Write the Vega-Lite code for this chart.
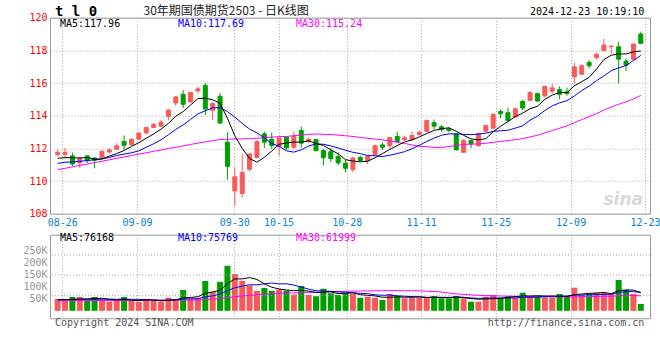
{
  "$schema": "https://vega.github.io/schema/vega-lite/v6.json",
  "autosize": {"type": "none"},
  "padding": {"left": 50, "top": 17.7, "right": 610, "bottom": 342.3},
  "background": "white",
  "bounds": "flush",
  "spacing": 21,
  "config": {
    "view": {"stroke": "#999999", "strokeWidth": 1},
    "font": "DejaVu Sans Mono",
    "axis": {"labelFont": "DejaVu Sans Mono", "labelFontSize": 10, "gridDash": [1, 2], "gridColor": "#a8a8a8", "gridOpacity": 1, "gridWidth": 1, "domain": false, "ticks": false, "labelPadding": 3}
  },
  "datasets": {
    "k": [
      {"d":"08-23","i":0,"o":111.62,"h":111.91,"l":111.50,"c":111.76,"v":48900,"m5":111.39,"m10":111.08,"m30":110.70,"vm5":46400,"vm10":45100,"vm30":41800},
      {"d":"08-26","i":1,"o":111.64,"h":112.03,"l":111.41,"c":111.76,"v":40600,"m5":111.43,"m10":111.15,"m30":110.78,"vm5":46400,"vm10":45500,"vm30":41800},
      {"d":"08-27","i":2,"o":111.54,"h":111.74,"l":110.92,"c":111.04,"v":57100,"m5":111.43,"m10":111.17,"m30":110.87,"vm5":47200,"vm10":46000,"vm30":41800},
      {"d":"08-28","i":3,"o":111.11,"h":111.50,"l":110.80,"c":111.39,"v":57100,"m5":111.41,"m10":111.21,"m30":110.96,"vm5":48900,"vm10":46800,"vm30":42200},
      {"d":"08-29","i":4,"o":111.54,"h":111.58,"l":111.09,"c":111.25,"v":43500,"m5":111.44,"m10":111.25,"m30":111.04,"vm5":49400,"vm10":47200,"vm30":42200},
      {"d":"08-30","i":5,"o":111.41,"h":111.45,"l":110.78,"c":111.27,"v":57100,"m5":111.34,"m10":111.31,"m30":111.13,"vm5":51100,"vm10":47600,"vm30":42200},
      {"d":"09-02","i":6,"o":111.43,"h":111.86,"l":111.39,"c":111.82,"v":43500,"m5":111.35,"m10":111.35,"m30":111.21,"vm5":51700,"vm10":48000,"vm30":42600},
      {"d":"09-03","i":7,"o":111.78,"h":112.03,"l":111.66,"c":111.90,"v":37700,"m5":111.53,"m10":111.45,"m30":111.30,"vm5":47800,"vm10":48000,"vm30":42600},
      {"d":"09-04","i":8,"o":111.95,"h":112.32,"l":111.90,"c":112.15,"v":40600,"m5":111.68,"m10":111.56,"m30":111.39,"vm5":44500,"vm10":48000,"vm30":42600},
      {"d":"09-05","i":9,"o":112.42,"h":112.79,"l":111.93,"c":112.19,"v":57100,"m5":111.87,"m10":111.65,"m30":111.47,"vm5":47200,"vm10":48300,"vm30":43100},
      {"d":"09-06","i":10,"o":112.23,"h":112.62,"l":112.17,"c":112.56,"v":40600,"m5":112.12,"m10":111.73,"m30":111.56,"vm5":43900,"vm10":47500,"vm30":43100},
      {"d":"09-09","i":11,"o":112.56,"h":112.99,"l":112.52,"c":112.93,"v":37700,"m5":112.35,"m10":111.85,"m30":111.65,"vm5":42700,"vm10":47200,"vm30":43100},
      {"d":"09-10","i":12,"o":112.95,"h":113.32,"l":112.85,"c":113.28,"v":48900,"m5":112.62,"m10":112.07,"m30":111.73,"vm5":45000,"vm10":46400,"vm30":43500},
      {"d":"09-11","i":13,"o":113.28,"h":113.55,"l":113.24,"c":113.46,"v":40600,"m5":112.88,"m10":112.28,"m30":111.82,"vm5":45000,"vm10":44700,"vm30":43500},
      {"d":"09-12","i":14,"o":113.36,"h":113.73,"l":113.32,"c":113.61,"v":37700,"m5":113.17,"m10":112.52,"m30":111.90,"vm5":41100,"vm10":44100,"vm30":43500},
      {"d":"09-13","i":15,"o":113.96,"h":114.37,"l":113.71,"c":114.35,"v":54200,"m5":113.53,"m10":112.83,"m30":111.99,"vm5":43800,"vm10":43800,"vm30":43900},
      {"d":"09-18","i":16,"o":114.78,"h":115.21,"l":114.61,"c":115.15,"v":48900,"m5":113.97,"m10":113.16,"m30":112.07,"vm5":46000,"vm10":44400,"vm30":43900},
      {"d":"09-19","i":17,"o":115.31,"h":115.56,"l":114.47,"c":114.70,"v":86100,"m5":114.25,"m10":113.44,"m30":112.15,"vm5":53500,"vm10":49200,"vm30":44300},
      {"d":"09-20","i":18,"o":114.84,"h":115.45,"l":114.82,"c":115.43,"v":48900,"m5":114.65,"m10":113.77,"m30":112.24,"vm5":55100,"vm10":50100,"vm30":44300},
      {"d":"09-23","i":19,"o":115.52,"h":115.76,"l":115.35,"c":115.64,"v":53800,"m5":115.05,"m10":114.11,"m30":112.32,"vm5":58400,"vm10":49700,"vm30":44700},
      {"d":"09-24","i":20,"o":115.86,"h":116.01,"l":114.04,"c":114.41,"v":123400,"m5":115.07,"m10":114.30,"m30":112.40,"vm5":72200,"vm10":58000,"vm30":46400},
      {"d":"09-25","i":21,"o":114.33,"h":114.82,"l":113.75,"c":114.74,"v":77800,"m5":114.98,"m10":114.48,"m30":112.47,"vm5":78000,"vm10":62000,"vm30":48400},
      {"d":"09-26","i":22,"o":115.19,"h":115.39,"l":113.50,"c":113.55,"v":120100,"m5":114.75,"m10":114.50,"m30":112.54,"vm5":84800,"vm10":69100,"vm30":50900},
      {"d":"09-27","i":23,"o":112.38,"h":112.99,"l":110.08,"c":110.90,"v":186300,"m5":113.85,"m10":114.25,"m30":112.56,"vm5":112300,"vm10":83700,"vm30":54600},
      {"d":"09-30","i":24,"o":109.40,"h":110.84,"l":108.48,"c":110.26,"v":152400,"m5":112.77,"m10":113.91,"m30":112.57,"vm5":132000,"vm10":95200,"vm30":58000},
      {"d":"10-08","i":25,"o":109.24,"h":111.66,"l":108.99,"c":110.53,"v":124200,"m5":112.00,"m10":113.53,"m30":112.58,"vm5":132100,"vm10":102200,"vm30":61300},
      {"d":"10-09","i":26,"o":110.72,"h":111.70,"l":110.59,"c":111.66,"v":104700,"m5":111.38,"m10":113.18,"m30":112.60,"vm5":137500,"vm10":107800,"vm30":63800},
      {"d":"10-10","i":27,"o":111.45,"h":112.52,"l":111.39,"c":112.42,"v":82000,"m5":111.15,"m10":112.95,"m30":112.62,"vm5":129900,"vm10":107400,"vm30":66200},
      {"d":"10-11","i":28,"o":112.89,"h":113.03,"l":112.03,"c":112.38,"v":94400,"m5":111.45,"m10":112.65,"m30":112.65,"vm5":111500,"vm10":111900,"vm30":68700},
      {"d":"10-14","i":29,"o":112.56,"h":112.97,"l":111.95,"c":112.17,"v":82800,"m5":111.83,"m10":112.30,"m30":112.69,"vm5":97600,"vm10":114800,"vm30":71000},
      {"d":"10-15","i":30,"o":112.11,"h":112.64,"l":111.56,"c":112.64,"v":88200,"m5":112.25,"m10":112.13,"m30":112.72,"vm5":90400,"vm10":111300,"vm30":72200},
      {"d":"10-16","i":31,"o":112.69,"h":112.73,"l":111.91,"c":112.03,"v":83600,"m5":112.33,"m10":111.85,"m30":112.73,"vm5":86200,"vm10":111900,"vm30":73700},
      {"d":"10-17","i":32,"o":112.07,"h":113.03,"l":111.97,"c":112.73,"v":67100,"m5":112.39,"m10":111.77,"m30":112.78,"vm5":83200,"vm10":106600,"vm30":74000},
      {"d":"10-18","i":33,"o":113.10,"h":113.34,"l":112.03,"c":112.32,"v":102700,"m5":112.38,"m10":111.91,"m30":112.81,"vm5":84900,"vm10":98200,"vm30":75600},
      {"d":"10-21","i":34,"o":112.42,"h":112.64,"l":112.32,"c":112.56,"v":65400,"m5":112.46,"m10":112.14,"m30":112.86,"vm5":81400,"vm10":89500,"vm30":76300},
      {"d":"10-22","i":35,"o":112.54,"h":112.58,"l":111.82,"c":111.86,"v":60400,"m5":112.30,"m10":112.28,"m30":112.88,"vm5":75800,"vm10":83100,"vm30":76400},
      {"d":"10-23","i":36,"o":111.86,"h":111.97,"l":110.94,"c":111.43,"v":91500,"m5":112.18,"m10":112.25,"m30":112.86,"vm5":77400,"vm10":81800,"vm30":78000},
      {"d":"10-24","i":37,"o":111.80,"h":112.03,"l":111.15,"c":111.37,"v":72500,"m5":111.91,"m10":112.15,"m30":112.85,"vm5":78500,"vm10":80900,"vm30":79200},
      {"d":"10-25","i":38,"o":111.50,"h":111.76,"l":110.96,"c":111.11,"v":65400,"m5":111.67,"m10":112.02,"m30":112.81,"vm5":71000,"vm10":78000,"vm30":80000},
      {"d":"10-28","i":39,"o":111.09,"h":111.29,"l":110.53,"c":110.78,"v":72500,"m5":111.31,"m10":111.88,"m30":112.77,"vm5":72500,"vm10":76900,"vm30":80500},
      {"d":"10-29","i":40,"o":110.70,"h":111.45,"l":110.53,"c":111.41,"v":69600,"m5":111.22,"m10":111.76,"m30":112.73,"vm5":74300,"vm10":75100,"vm30":81400},
      {"d":"10-30","i":41,"o":111.45,"h":111.56,"l":111.21,"c":111.25,"v":54200,"m5":111.18,"m10":111.68,"m30":112.67,"vm5":66800,"vm10":72100,"vm30":82000},
      {"d":"10-31","i":42,"o":111.25,"h":111.56,"l":111.04,"c":111.52,"v":58400,"m5":111.21,"m10":111.56,"m30":112.61,"vm5":64000,"vm10":71200,"vm30":82300},
      {"d":"11-01","i":43,"o":111.62,"h":112.21,"l":111.62,"c":112.17,"v":54200,"m5":111.43,"m10":111.55,"m30":112.57,"vm5":61800,"vm10":66400,"vm30":82800},
      {"d":"11-04","i":44,"o":112.21,"h":112.38,"l":111.91,"c":112.07,"v":44700,"m5":111.68,"m10":111.50,"m30":112.52,"vm5":56200,"vm10":64300,"vm30":83000},
      {"d":"11-05","i":45,"o":112.17,"h":112.69,"l":112.01,"c":112.67,"v":69600,"m5":111.94,"m10":111.58,"m30":112.46,"vm5":56200,"vm10":65200,"vm30":83500},
      {"d":"11-06","i":46,"o":112.73,"h":113.03,"l":112.40,"c":112.42,"v":61300,"m5":112.17,"m10":111.68,"m30":112.37,"vm5":57600,"vm10":62200,"vm30":83900},
      {"d":"11-07","i":47,"o":112.52,"h":112.79,"l":112.48,"c":112.64,"v":51800,"m5":112.39,"m10":111.80,"m30":112.30,"vm5":56300,"vm10":60200,"vm30":82800},
      {"d":"11-08","i":48,"o":112.52,"h":113.03,"l":112.48,"c":112.79,"v":54200,"m5":112.52,"m10":111.97,"m30":112.21,"vm5":56300,"vm10":59000,"vm30":83000},
      {"d":"11-11","i":49,"o":112.85,"h":113.09,"l":112.79,"c":112.99,"v":54200,"m5":112.70,"m10":112.19,"m30":112.13,"vm5":58200,"vm10":57200,"vm30":83000},
      {"d":"11-12","i":50,"o":113.05,"h":113.75,"l":112.99,"c":113.71,"v":54200,"m5":112.91,"m10":112.42,"m30":112.10,"vm5":55100,"vm10":55700,"vm30":80700},
      {"d":"11-13","i":51,"o":113.57,"h":113.77,"l":113.16,"c":113.36,"v":61300,"m5":113.10,"m10":112.63,"m30":112.06,"vm5":55100,"vm10":56400,"vm30":80100},
      {"d":"11-14","i":52,"o":113.32,"h":113.42,"l":113.03,"c":113.16,"v":51800,"m5":113.20,"m10":112.80,"m30":112.04,"vm5":55100,"vm10":55700,"vm30":77800},
      {"d":"11-15","i":53,"o":113.20,"h":113.30,"l":112.99,"c":113.10,"v":51800,"m5":113.26,"m10":112.89,"m30":112.12,"vm5":54600,"vm10":55500,"vm30":73400},
      {"d":"11-18","i":54,"o":112.89,"h":112.89,"l":111.86,"c":111.91,"v":61300,"m5":113.05,"m10":112.88,"m30":112.17,"vm5":56100,"vm10":57100,"vm30":70300},
      {"d":"11-19","i":55,"o":111.76,"h":112.58,"l":111.72,"c":112.48,"v":51800,"m5":112.80,"m10":112.86,"m30":112.24,"vm5":55600,"vm10":55400,"vm30":67900},
      {"d":"11-20","i":56,"o":112.48,"h":112.52,"l":112.03,"c":112.27,"v":37700,"m5":112.58,"m10":112.84,"m30":112.26,"vm5":50800,"vm10":53000,"vm30":65700},
      {"d":"11-21","i":57,"o":112.17,"h":112.99,"l":112.07,"c":112.89,"v":37700,"m5":112.53,"m10":112.87,"m30":112.27,"vm5":48000,"vm10":51600,"vm30":64200},
      {"d":"11-22","i":58,"o":113.05,"h":113.44,"l":113.00,"c":113.40,"v":58400,"m5":112.59,"m10":112.93,"m30":112.31,"vm5":49300,"vm10":52000,"vm30":63000},
      {"d":"11-25","i":59,"o":113.24,"h":114.16,"l":113.20,"c":114.08,"v":65400,"m5":113.02,"m10":113.04,"m30":112.37,"vm5":50200,"vm10":53100,"vm30":62400},
      {"d":"11-26","i":60,"o":114.26,"h":114.39,"l":113.85,"c":114.12,"v":54200,"m5":113.35,"m10":113.08,"m30":112.42,"vm5":50700,"vm10":53100,"vm30":61300},
      {"d":"11-27","i":61,"o":114.18,"h":114.49,"l":113.71,"c":113.71,"v":61300,"m5":113.64,"m10":113.11,"m30":112.48,"vm5":55400,"vm10":53100,"vm30":60500},
      {"d":"11-28","i":62,"o":113.92,"h":114.43,"l":113.87,"c":114.43,"v":54200,"m5":113.95,"m10":113.24,"m30":112.53,"vm5":58700,"vm10":53400,"vm30":60100},
      {"d":"11-29","i":63,"o":114.88,"h":114.98,"l":114.33,"c":114.47,"v":74900,"m5":114.16,"m10":113.38,"m30":112.60,"vm5":62000,"vm10":55700,"vm30":59200},
      {"d":"12-02","i":64,"o":114.94,"h":115.54,"l":114.94,"c":115.41,"v":61300,"m5":114.43,"m10":113.73,"m30":112.70,"vm5":61200,"vm10":55700,"vm30":59000},
      {"d":"12-03","i":65,"o":115.35,"h":115.39,"l":114.84,"c":114.90,"v":61300,"m5":114.58,"m10":113.97,"m30":112.80,"vm5":62600,"vm10":56600,"vm30":59100},
      {"d":"12-04","i":66,"o":115.21,"h":115.80,"l":115.15,"c":115.80,"v":54200,"m5":115.00,"m10":114.32,"m30":112.95,"vm5":61200,"vm10":58300,"vm30":57800},
      {"d":"12-05","i":67,"o":115.50,"h":115.95,"l":115.39,"c":115.70,"v":54200,"m5":115.26,"m10":114.60,"m30":113.09,"vm5":61200,"vm10":59900,"vm30":57200},
      {"d":"12-06","i":68,"o":115.60,"h":115.80,"l":115.02,"c":115.31,"v":69600,"m5":115.42,"m10":114.79,"m30":113.23,"vm5":60100,"vm10":61100,"vm30":57400},
      {"d":"12-09","i":69,"o":115.46,"h":115.72,"l":115.23,"c":115.35,"v":61300,"m5":115.41,"m10":114.92,"m30":113.38,"vm5":60100,"vm10":60700,"vm30":57000},
      {"d":"12-10","i":70,"o":116.38,"h":117.26,"l":115.97,"c":116.99,"v":95600,"m5":115.83,"m10":115.21,"m30":113.57,"vm5":67000,"vm10":64800,"vm30":57900},
      {"d":"12-11","i":71,"o":116.54,"h":117.14,"l":116.48,"c":117.06,"v":65400,"m5":116.08,"m10":115.54,"m30":113.76,"vm5":69200,"vm10":65200,"vm30":58200},
      {"d":"12-12","i":72,"o":117.26,"h":117.40,"l":116.89,"c":117.06,"v":69600,"m5":116.35,"m10":115.81,"m30":113.95,"vm5":72300,"vm10":66700,"vm30":58600},
      {"d":"12-13","i":73,"o":117.55,"h":117.85,"l":117.44,"c":117.77,"v":74900,"m5":116.85,"m10":116.14,"m30":114.13,"vm5":73400,"vm10":66700,"vm30":59300},
      {"d":"12-16","i":74,"o":117.98,"h":118.70,"l":117.98,"c":118.33,"v":74900,"m5":117.44,"m10":116.43,"m30":114.34,"vm5":76100,"vm10":68100,"vm30":60300},
      {"d":"12-17","i":75,"o":118.22,"h":118.33,"l":117.77,"c":118.26,"v":69600,"m5":117.70,"m10":116.76,"m30":114.53,"vm5":70900,"vm10":68900,"vm30":60300},
      {"d":"12-18","i":76,"o":118.22,"h":118.53,"l":115.97,"c":117.46,"v":127500,"m5":117.78,"m10":116.93,"m30":114.70,"vm5":83300,"vm10":76300,"vm30":62500},
      {"d":"12-19","i":77,"o":117.34,"h":117.51,"l":116.75,"c":117.10,"v":86100,"m5":117.78,"m10":117.07,"m30":114.85,"vm5":86600,"vm10":79400,"vm30":63700},
      {"d":"12-20","i":78,"o":117.46,"h":118.39,"l":117.40,"c":118.39,"v":69600,"m5":117.91,"m10":117.38,"m30":115.03,"vm5":85500,"vm10":79400,"vm30":64200},
      {"d":"12-23","i":79,"o":119.00,"h":119.15,"l":118.39,"c":118.43,"v":28200,"m5":117.96,"m10":117.69,"m30":115.24,"vm5":76168,"vm10":75769,"vm30":61999}
    ]
  },
  "vconcat": [
    {
      "width": 600,
      "height": 196,
      "data": {"name": "k"},
      "resolve": {"axis": {"x": "independent", "y": "independent"}},
      "layer": [
        {
          "mark": {"type": "rule", "strokeWidth": 1},
          "encoding": {
            "x": {"field": "i", "type": "quantitative", "title": null, "scale": {"domain": [-0.36, 79.57]}, "axis": {"orient": "bottom", "grid": true, "labels": true, "values": [0.613, 10.74, 23.93, 29.92, 39.17, 49.24, 59.36, 69.49, 79.57], "labelExpr": "datum.value < 1 ? '08-26' : datum.value < 11 ? '09-09' : datum.value < 24 ? '09-30' : datum.value < 30 ? '10-15' : datum.value < 40 ? '10-28' : datum.value < 50 ? '11-11' : datum.value < 60 ? '11-25' : datum.value < 70 ? '12-09' : '12-23'", "labelColor": "#0a7fd8", "labelFlush": 1, "labelOverlap": false, "labelPadding": 4, "gridColor": "#a8a8a8", "gridDash": [1, 2]}},
            "y": {"field": "l", "type": "quantitative", "title": null, "scale": {"domain": [108, 120]}, "axis": {"orient": "left", "values": [108, 110, 112, 114, 116, 118, 120], "grid": true, "labelColor": "#ff0000", "labelPadding": 3, "labelOverlap": false, "gridColor": "#a8a8a8", "gridDash": [1, 2]}},
            "y2": {"field": "h"},
            "color": {"condition": {"test": "datum.c >= datum.o", "value": "#f85a5a"}, "value": "#009f00"}
          }
        },
        {
          "mark": {"type": "bar", "size": 4, "strokeWidth": 1},
          "encoding": {
            "x": {"field": "i", "type": "quantitative", "axis": null, "scale": {"domain": [-0.36, 79.57]}},
            "y": {"field": "o", "type": "quantitative", "axis": null, "scale": {"domain": [108, 120]}},
            "y2": {"field": "c"},
            "color": {"condition": {"test": "datum.c >= datum.o", "value": "#f85a5a"}, "value": "#009f00"},
            "stroke": {"condition": {"test": "datum.c >= datum.o", "value": "#f85a5a"}, "value": "#009f00"}
          }
        },
        {
          "mark": {"type": "line", "color": "#ff00ff", "strokeWidth": 1},
          "encoding": {
            "x": {"field": "i", "type": "quantitative", "axis": null, "scale": {"domain": [-0.36, 79.57]}},
            "y": {"field": "m30", "type": "quantitative", "axis": null, "scale": {"domain": [108, 120]}}
          }
        },
        {
          "mark": {"type": "line", "color": "#0000ff", "strokeWidth": 1},
          "encoding": {
            "x": {"field": "i", "type": "quantitative", "axis": null, "scale": {"domain": [-0.36, 79.57]}},
            "y": {"field": "m10", "type": "quantitative", "axis": null, "scale": {"domain": [108, 120]}}
          }
        },
        {
          "mark": {"type": "line", "color": "#000000", "strokeWidth": 1},
          "encoding": {
            "x": {"field": "i", "type": "quantitative", "axis": null, "scale": {"domain": [-0.36, 79.57]}},
            "y": {"field": "m5", "type": "quantitative", "axis": null, "scale": {"domain": [108, 120]}}
          }
        },
        {
          "data": {"values": [{}]},
          "mark": {"type": "text", "align": "left", "baseline": "middle", "fontSize": 10, "color": "#000000", "font": "DejaVu Sans Mono"},
          "encoding": {
            "x": {"datum": 0.31, "type": "quantitative", "axis": null, "scale": {"domain": [-0.36, 79.57]}},
            "y": {"datum": 119.61, "type": "quantitative", "axis": null, "scale": {"domain": [108, 120]}},
            "text": {"value": "MA5:117.96"}
          }
        },
        {
          "data": {"values": [{}]},
          "mark": {"type": "text", "align": "left", "baseline": "middle", "fontSize": 10, "color": "#0000ff", "font": "DejaVu Sans Mono"},
          "encoding": {
            "x": {"datum": 16.29, "type": "quantitative", "axis": null, "scale": {"domain": [-0.36, 79.57]}},
            "y": {"datum": 119.61, "type": "quantitative", "axis": null, "scale": {"domain": [108, 120]}},
            "text": {"value": "MA10:117.69"}
          }
        },
        {
          "data": {"values": [{}]},
          "mark": {"type": "text", "align": "left", "baseline": "middle", "fontSize": 10, "color": "#ff00ff", "font": "DejaVu Sans Mono"},
          "encoding": {
            "x": {"datum": 32.28, "type": "quantitative", "axis": null, "scale": {"domain": [-0.36, 79.57]}},
            "y": {"datum": 119.61, "type": "quantitative", "axis": null, "scale": {"domain": [108, 120]}},
            "text": {"value": "MA30:115.24"}
          }
        },
        {
          "data": {"values": [{}]},
          "mark": {"type": "text", "align": "left", "baseline": "middle", "fontSize": 14, "fontWeight": "bold", "color": "#000000", "font": "DejaVu Sans Mono"},
          "encoding": {
            "x": {"datum": -0.36, "type": "quantitative", "axis": null, "scale": {"domain": [-0.36, 79.57]}},
            "y": {"datum": 120.37, "type": "quantitative", "axis": null, "scale": {"domain": [108, 120]}},
            "text": {"value": "t l 0"}
          }
        },
        {
          "data": {"values": [{}]},
          "mark": {"type": "text", "align": "left", "baseline": "middle", "fontSize": 12, "color": "#222222", "font": "Noto Sans CJK SC"},
          "encoding": {
            "x": {"datum": 11.63, "type": "quantitative", "axis": null, "scale": {"domain": [-0.36, 79.57]}},
            "y": {"datum": 120.39, "type": "quantitative", "axis": null, "scale": {"domain": [108, 120]}},
            "text": {"value": "30年期国债期货2503 - 日K线图"}
          }
        },
        {
          "data": {"values": [{}]},
          "mark": {"type": "text", "align": "right", "baseline": "middle", "fontSize": 10, "color": "#000000", "font": "DejaVu Sans Mono"},
          "encoding": {
            "x": {"datum": 79.48, "type": "quantitative", "axis": null, "scale": {"domain": [-0.36, 79.57]}},
            "y": {"datum": 120.33, "type": "quantitative", "axis": null, "scale": {"domain": [108, 120]}},
            "text": {"value": "2024-12-23 10:19:10"}
          }
        },
        {
          "data": {"values": [{}]},
          "mark": {"type": "text", "align": "right", "baseline": "middle", "fontSize": 17, "fontWeight": "bold", "fontStyle": "italic", "color": "#d9d9d9", "font": "DejaVu Sans"},
          "encoding": {
            "x": {"datum": 79.3, "type": "quantitative", "axis": null, "scale": {"domain": [-0.36, 79.57]}},
            "y": {"datum": 108.84, "type": "quantitative", "axis": null, "scale": {"domain": [108, 120]}},
            "text": {"value": "sina"}
          }
        }
      ]
    },
    {
      "width": 600,
      "height": 83.6,
      "data": {"name": "k"},
      "resolve": {"axis": {"x": "independent", "y": "independent"}},
      "layer": [
        {
          "mark": {"type": "bar", "size": 6},
          "encoding": {
            "x": {"field": "i", "type": "quantitative", "title": null, "scale": {"domain": [-0.36, 79.57]}, "axis": {"orient": "bottom", "grid": true, "labels": false, "values": [0.613, 10.74, 23.93, 29.92, 39.17, 49.24, 59.36, 69.49], "gridColor": "#a8a8a8", "gridDash": [1, 2]}},
            "y": {"field": "v", "type": "quantitative", "title": null, "scale": {"domain": [-31000, 315000]}, "axis": {"orient": "left", "values": [50000, 100000, 150000, 200000, 250000], "grid": false, "labelColor": "#999999", "labelPadding": 3, "labelOverlap": false, "labelExpr": "format(datum.value / 1000, 'd') + 'K'"}},
            "color": {"condition": {"test": "datum.c >= datum.o", "value": "#f85a5a"}, "value": "#009f00"}
          }
        },
        {
          "data": {"values": [{}]},
          "mark": {"type": "rule", "strokeDash": [1, 2], "color": "#a8a8a8", "strokeWidth": 1},
          "encoding": {"y": {"datum": 62500, "type": "quantitative", "axis": null, "scale": {"domain": [-31000, 315000]}}}
        },
        {
          "data": {"values": [{}]},
          "mark": {"type": "rule", "strokeDash": [1, 2], "color": "#a8a8a8", "strokeWidth": 1},
          "encoding": {"y": {"datum": 148200, "type": "quantitative", "axis": null, "scale": {"domain": [-31000, 315000]}}}
        },
        {
          "data": {"values": [{}]},
          "mark": {"type": "rule", "strokeDash": [1, 2], "color": "#a8a8a8", "strokeWidth": 1},
          "encoding": {"y": {"datum": 231000, "type": "quantitative", "axis": null, "scale": {"domain": [-31000, 315000]}}}
        },
        {
          "mark": {"type": "line", "color": "#ff00ff", "strokeWidth": 1},
          "encoding": {
            "x": {"field": "i", "type": "quantitative", "axis": null, "scale": {"domain": [-0.36, 79.57]}},
            "y": {"field": "vm30", "type": "quantitative", "axis": null, "scale": {"domain": [-31000, 315000]}}
          }
        },
        {
          "mark": {"type": "line", "color": "#0000ff", "strokeWidth": 1},
          "encoding": {
            "x": {"field": "i", "type": "quantitative", "axis": null, "scale": {"domain": [-0.36, 79.57]}},
            "y": {"field": "vm10", "type": "quantitative", "axis": null, "scale": {"domain": [-31000, 315000]}}
          }
        },
        {
          "mark": {"type": "line", "color": "#000000", "strokeWidth": 1},
          "encoding": {
            "x": {"field": "i", "type": "quantitative", "axis": null, "scale": {"domain": [-0.36, 79.57]}},
            "y": {"field": "vm5", "type": "quantitative", "axis": null, "scale": {"domain": [-31000, 315000]}}
          }
        },
        {
          "data": {"values": [{}]},
          "mark": {"type": "text", "align": "left", "baseline": "middle", "fontSize": 10, "color": "#000000", "font": "DejaVu Sans Mono"},
          "encoding": {
            "x": {"datum": 0.31, "type": "quantitative", "axis": null, "scale": {"domain": [-0.36, 79.57]}},
            "y": {"datum": 300000, "type": "quantitative", "axis": null, "scale": {"domain": [-31000, 315000]}},
            "text": {"value": "MA5:76168"}
          }
        },
        {
          "data": {"values": [{}]},
          "mark": {"type": "text", "align": "left", "baseline": "middle", "fontSize": 10, "color": "#0000ff", "font": "DejaVu Sans Mono"},
          "encoding": {
            "x": {"datum": 16.29, "type": "quantitative", "axis": null, "scale": {"domain": [-0.36, 79.57]}},
            "y": {"datum": 300000, "type": "quantitative", "axis": null, "scale": {"domain": [-31000, 315000]}},
            "text": {"value": "MA10:75769"}
          }
        },
        {
          "data": {"values": [{}]},
          "mark": {"type": "text", "align": "left", "baseline": "middle", "fontSize": 10, "color": "#ff00ff", "font": "DejaVu Sans Mono"},
          "encoding": {
            "x": {"datum": 32.28, "type": "quantitative", "axis": null, "scale": {"domain": [-0.36, 79.57]}},
            "y": {"datum": 300000, "type": "quantitative", "axis": null, "scale": {"domain": [-31000, 315000]}},
            "text": {"value": "MA30:61999"}
          }
        },
        {
          "data": {"values": [{}]},
          "mark": {"type": "text", "align": "left", "baseline": "middle", "fontSize": 10, "color": "#555555", "font": "DejaVu Sans Mono"},
          "encoding": {
            "x": {"datum": -0.36, "type": "quantitative", "axis": null, "scale": {"domain": [-0.36, 79.57]}},
            "y": {"datum": -51700, "type": "quantitative", "axis": null, "scale": {"domain": [-31000, 315000]}},
            "text": {"value": "Copyright 2024 SINA.COM"}
          }
        },
        {
          "data": {"values": [{}]},
          "mark": {"type": "text", "align": "right", "baseline": "middle", "fontSize": 10, "color": "#555555", "font": "DejaVu Sans Mono"},
          "encoding": {
            "x": {"datum": 79.48, "type": "quantitative", "axis": null, "scale": {"domain": [-0.36, 79.57]}},
            "y": {"datum": -51700, "type": "quantitative", "axis": null, "scale": {"domain": [-31000, 315000]}},
            "text": {"value": "http://finance.sina.com.cn"}
          }
        }
      ]
    }
  ]
}
